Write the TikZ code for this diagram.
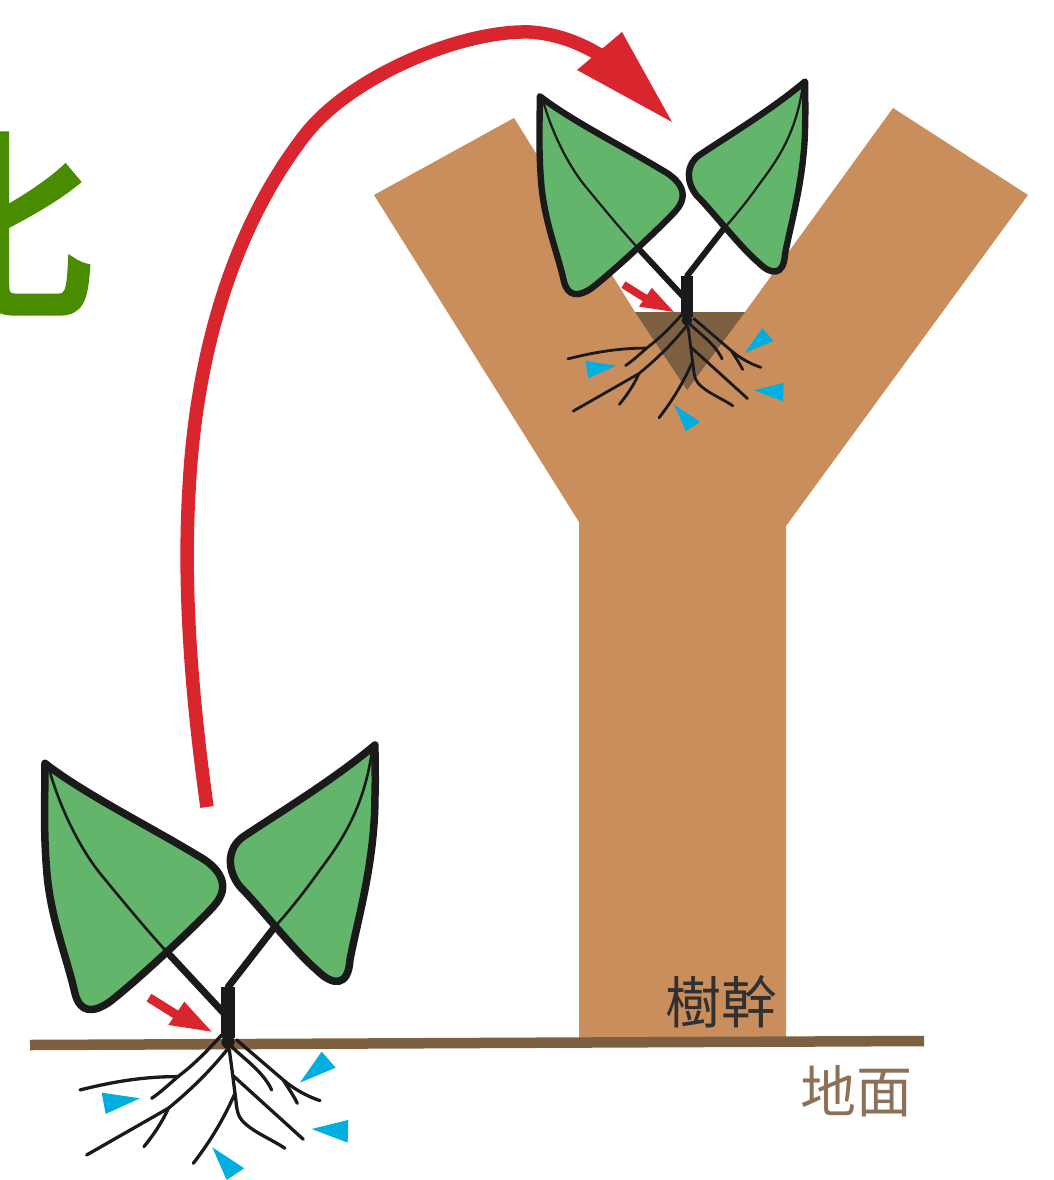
\documentclass[tikz,border=0pt]{standalone}
\usepackage{fontspec}
\newfontfamily\cjk{Noto Sans CJK TC}
\newfontfamily\cjkhead[FakeBold=4]{Noto Sans CJK JP}
\definecolor{trunkbrown}{HTML}{C98E5C}
\definecolor{soilbrown}{HTML}{7D5F42}
\definecolor{labelbrown}{HTML}{8C7158}
\definecolor{leafgreen}{HTML}{63B56C}
\definecolor{inkblack}{HTML}{1A1A1A}
\definecolor{arrowred}{HTML}{D9262E}
\definecolor{wedgeblue}{HTML}{00AEDF}
\definecolor{titlegreen}{HTML}{4A8C00}
\tikzset{
  leafshape/.style={draw=inkblack,fill=leafgreen,line join=round},
  rootline/.style={draw=inkblack,line cap=round,line join=round},
  wedge/.style={fill=wedgeblue},
  redfill/.style={fill=arrowred},
}
% One seedling: #1,#2 shift, #3 coordinate scale, #4 stroke scale
\newcommand{\seedling}[4]{%
  \begin{scope}[shift={(#1,#2)},x=#3pt,y=-#3pt]
    % leaf stalks
    \draw[rootline,line width=#4*7pt] (500,665) -- (672,850);
    \draw[rootline,line width=#4*7pt] (825,590) -- (685,770);
    % leaves
    \path[leafshape,line width=#4*7.5pt] (135,100)
      .. controls (250,190) and (450,290) .. (590,375)
      .. controls (655,410) and (700,465) .. (640,530)
      .. controls (600,575) and (420,745) .. (330,815)
      .. controls (280,850) and (240,850) .. (225,790)
      .. controls (200,680) and (150,560) .. (140,420)
      .. controls (130,300) and (135,200) .. (135,100) -- cycle;
    \path[leafshape,line width=#4*7.5pt] (1125,45)
      .. controls (1000,150) and (850,240) .. (730,320)
      .. controls (680,355) and (680,420) .. (720,470)
      .. controls (780,530) and (880,660) .. (950,720)
      .. controls (1000,770) and (1045,770) .. (1050,690)
      .. controls (1070,580) and (1125,400) .. (1125,200)
      .. controls (1127,150) and (1125,100) .. (1125,45) -- cycle;
    % midribs
    \draw[rootline,line width=#4*2.6pt] (145,110) .. controls (190,270) and (260,380) .. (300,430)
      .. controls (370,515) and (440,600) .. (500,665);
    \draw[rootline,line width=#4*2.6pt] (1115,70) .. controls (1090,240) and (1020,340) .. (960,420)
      .. controls (910,490) and (870,540) .. (825,590);
    % stem
    \draw[inkblack,line width=#4*14.5pt] (684,772) -- (684,925);
    \fill[inkblack] (684,936) circle (20);
    % roots
    \begin{scope}[rootline,line width=#4*3.3pt]
      \draw (665,915) .. controls (620,965) and (580,1005) .. (540,1035) .. controls (510,1060) and (485,1085) .. (455,1105);
      \draw (530,1040) .. controls (430,1040) and (340,1055) .. (240,1080);
      \draw (685,955) .. controls (640,1010) and (590,1065) .. (505,1135) -- (260,1275);
      \draw (505,1135) .. controls (485,1180) and (460,1215) .. (432,1250);
      \draw (688,960) .. controls (695,1010) and (700,1050) .. (705,1090) .. controls (710,1120) and (708,1150) .. (725,1170) .. controls (755,1205) and (810,1225) .. (855,1255);
      \draw (705,1090) .. controls (670,1170) and (630,1235) .. (580,1300);
      \draw (697,1035) -- (910,1228);
      \draw (695,950) .. controls (730,985) and (790,1025) .. (815,1080);
      \draw (710,930) -- (850,1050) .. controls (885,1080) and (925,1100) .. (960,1112);
      \draw (850,1050) .. controls (865,1075) and (880,1095) .. (892,1120);
    \end{scope}
    % small red arrow at the stem base
    \draw[arrowred,line width=#4*9pt] (447,803) -- (530,855);
    \fill[redfill] (553,815) -- (635,905) -- (505,885) -- cycle;
    % blue wedges around the roots
    \fill[wedge] (965,965) -- (1007,1013) -- (900,1058) -- cycle;
    \fill[wedge] (305,1088) -- (420,1105) -- (317,1152) -- cycle;
    \fill[wedge] (1045,1170) -- (1043,1238) -- (935,1197) -- cycle;
    \fill[wedge] (637,1252) -- (733,1315) -- (680,1350) -- cycle;
  \end{scope}}
\begin{document}
\begin{tikzpicture}[x=1pt,y=-1pt]
  \useasboundingbox (0,0) rectangle (1054,1180);
  \clip (0,0) rectangle (1054,1180);
  % large title character, running off the left edge
  \node[anchor=east,inner sep=0pt,text=titlegreen,font=\cjkhead\fontsize{200}{200}\selectfont] (title) at (93,224) {化};
  % tree trunk with its fork
  \fill[trunkbrown] (514,118) -- (374,195) -- (579,522) -- (579,1042) -- (786,1042)
    -- (786,526) -- (1028,195) -- (893,108) -- (745,312) -- (635,312) -- cycle;
  \fill[soilbrown] (635,312) -- (745,312) -- (687,390) -- cycle;
  % ground line
  \coordinate (groundL) at (30,1045);
  \coordinate (groundR) at (924,1041);
  \draw[soilbrown,line width=10.5pt] (groundL) -- (groundR);
  % seedlings
  \seedling{0}{730}{0.3333}{1}
  \seedling{503.6}{69.4}{0.268}{0.85}
  % long red arrow between the two positions
  \coordinate (arcStart) at (207,807);
  \coordinate (arcEnd) at (608,60);
  \draw[arrowred,line width=13.5pt] (arcStart)
    .. controls (192,700) and (183,590) .. (189,490)
    .. controls (196,350) and (235,225) .. (305,135)
    .. controls (350,77) and (460,30) .. (530,32)
    .. controls (560,34) and (585,45) .. (arcEnd);
  \fill[redfill] (577,70) -- (622,32) -- (672,122) -- cycle;
  % labels
  \node[inner sep=0pt,text=inkblack!90,font=\cjk\fontsize{56}{56}\selectfont] (trunklabel) at (721,1002) {樹幹};
  \node[inner sep=0pt,text=labelbrown,font=\cjk\fontsize{56}{56}\selectfont] (groundlabel) at (856,1091) {地面};
\end{tikzpicture}
\end{document}
